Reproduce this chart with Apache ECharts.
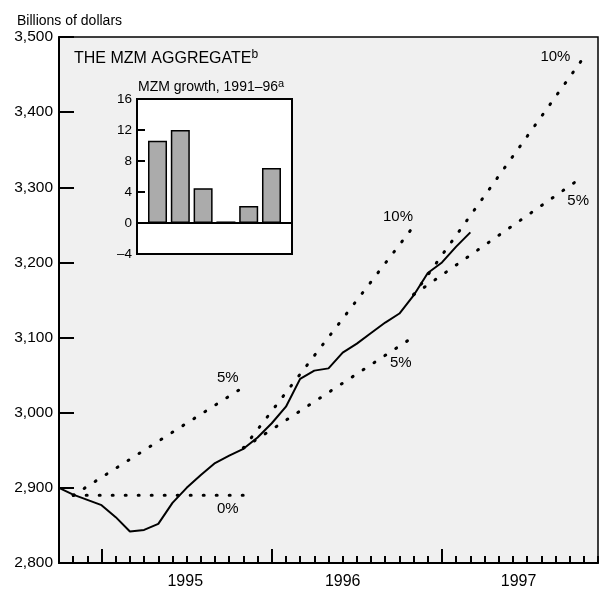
<!DOCTYPE html>
<html>
<head>
<meta charset="utf-8">
<script src="https://cdn.jsdelivr.net/npm/echarts@6/dist/echarts.min.js"></script>
<style>
  html, body { margin: 0; padding: 0; background: #fff; }
  #chart { width: 601px; height: 590px; }
</style>
</head>
<body>
<div id="chart"></div>
<script>
// months counted from Jan 1995 (0 = Jan 1995, -3 = Oct 1994)
const months = [-3, -2, -1, 0, 1, 2, 3, 4, 5, 6, 7, 8, 9, 10, 11, 12, 13, 14, 15, 16, 17, 18, 19, 20, 21, 22, 23, 24, 25, 26];
// MZM level, billions of dollars
const mzm = [2900, 2891, 2884, 2877, 2861, 2842, 2844, 2852, 2880, 2900, 2917, 2933, 2943, 2952, 2967, 2986,
  3008, 3045, 3056, 3059, 3080, 3092, 3106, 3120, 3132, 3156, 3186, 3200, 3221, 3240];

// growth cones [month, level]
const cone95zero = [[-2, 2890], [10, 2890]];
const cone95five = [[-2, 2890], [10, 3034]];
const cone96five = [[10, 2953], [22, 3101]];
const cone96ten = [[10, 2953], [22, 3248]];
const cone97five = [[22, 3157], [34, 3315]];
const cone97ten = [[22, 3157], [34, 3473]];
const coneLabels = [[8.9, 3046, "5%"], [8.9, 2872, "0%"], [20.9, 3260, "10%"],
  [21.1, 3066, "5%"], [32.0, 3474, "10%"], [33.6, 3282, "5%"]];

// x axis: year boundaries and year labels
const yearTicks = [0, 12, 24];
const yearLabelPos = [5.9, 17, 29.4];
const yearLabels = ["1995", "1996", "1997"];

// inset: MZM growth, percent
const growthYears = ["1991", "1992", "1993", "1994", "1995", "1996"];
const growthValues = [10.6, 12.0, 4.5, 0.2, 2.2, 7.1];

const FONT = "'Liberation Sans', Arial, sans-serif";

const chart = echarts.init(document.getElementById("chart"));

function dotted(data) {
  return {
    type: "line",
    xAxisIndex: 0,
    yAxisIndex: 0,
    data: data,
    showSymbol: false,
    silent: true,
    lineStyle: { color: "#000", width: 3, type: [1, 12], cap: "round" },
    z: 2,
  };
}

chart.setOption({
  animation: false,
  textStyle: { fontFamily: FONT, color: "#000" },
  title: [
    {
      text: "Billions of dollars",
      left: 12,
      top: 9,
      textStyle: { fontFamily: FONT, fontSize: 14, fontWeight: "normal", color: "#000" },
    },
    {
      text: "{t|THE MZM AGGREGATE}{s|b}",
      left: 69,
      top: 44,
      textStyle: {
        fontWeight: "normal",
        rich: {
          t: { fontFamily: FONT, fontSize: 16, fontWeight: "normal", color: "#000", lineHeight: 20 },
          s: { fontFamily: FONT, fontSize: 12, fontWeight: "normal", color: "#000", verticalAlign: "top", lineHeight: 20 },
        },
      },
    },
    {
      text: "{t|MZM growth, 1991\u201396}{s|a}",
      left: 133,
      top: 73,
      textStyle: {
        fontWeight: "normal",
        rich: {
          t: { fontFamily: FONT, fontSize: 14, fontWeight: "normal", color: "#000", lineHeight: 18 },
          s: { fontFamily: FONT, fontSize: 11, fontWeight: "normal", color: "#000", verticalAlign: "top", lineHeight: 18 },
        },
      },
    },
  ],
  grid: [
    { left: 59, top: 37, right: 3, bottom: 27, show: true, backgroundColor: "#f0f0f0", borderColor: "#000", borderWidth: 1.5 },
    { left: 137, top: 99, width: 155, height: 155, show: true, backgroundColor: "#fff", borderColor: "#000", borderWidth: 2 },
  ],
  xAxis: [
    {
      gridIndex: 0,
      type: "value",
      min: -3,
      max: 35,
      interval: 1,
      axisLine: { onZero: false, lineStyle: { color: "#000", width: 2 } },
      axisTick: { inside: true, length: 7, lineStyle: { color: "#000", width: 2 } },
      axisLabel: { show: false },
      splitLine: { show: false },
    },
    {
      gridIndex: 0,
      type: "value",
      min: -3,
      max: 35,
      position: "bottom",
      axisLine: { show: false, onZero: false },
      axisTick: { inside: true, length: 14, customValues: yearTicks, lineStyle: { color: "#000", width: 2 } },
      axisLabel: {
        customValues: yearLabelPos,
        margin: 11,
        fontSize: 16,
        fontFamily: FONT,
        color: "#000",
        formatter: function (v) {
          let best = 0;
          for (let i = 0; i < yearLabelPos.length; i++) {
            if (Math.abs(yearLabelPos[i] - v) < Math.abs(yearLabelPos[best] - v)) best = i;
          }
          return yearLabels[best];
        },
      },
      splitLine: { show: false },
    },
    {
      gridIndex: 1,
      type: "value",
      min: -0.9,
      max: 5.9,
      show: false,
      axisLine: { onZero: false },
    },
  ],
  yAxis: [
    {
      gridIndex: 0,
      type: "value",
      min: 2800,
      max: 3500,
      interval: 100,
      axisLine: { show: true, onZero: false, lineStyle: { color: "#000", width: 2 } },
      axisTick: { show: true, inside: true, length: 15, lineStyle: { color: "#000", width: 2 } },
      axisLabel: {
        margin: 6,
        fontSize: 15.5,
        fontFamily: FONT,
        color: "#000",
        formatter: (v) => v.toLocaleString("en-US"),
      },
      splitLine: { show: false },
    },
    {
      gridIndex: 1,
      type: "value",
      min: -4,
      max: 16,
      interval: 4,
      axisLine: { show: true, onZero: false, lineStyle: { color: "#000", width: 2 } },
      axisTick: { show: true, inside: true, length: 8, lineStyle: { color: "#000", width: 2 } },
      axisLabel: {
        margin: 5,
        fontSize: 13.5,
        fontFamily: FONT,
        color: "#000",
        formatter: (v) => (v < 0 ? "\u2013" + -v : String(v)),
      },
      splitLine: { show: false },
    },
  ],
  series: [
    dotted(cone95zero),
    dotted(cone95five),
    dotted(cone96five),
    dotted(cone96ten),
    dotted(cone97five),
    dotted(cone97ten),
    {
      name: "MZM",
      type: "line",
      xAxisIndex: 0,
      yAxisIndex: 0,
      data: months.map((m, i) => [m, mzm[i]]),
      showSymbol: false,
      lineStyle: { color: "#000", width: 2 },
      z: 3,
    },
    {
      type: "scatter",
      xAxisIndex: 0,
      yAxisIndex: 0,
      data: coneLabels,
      symbolSize: 0,
      silent: true,
      label: {
        show: true,
        position: "inside",
        fontSize: 15,
        fontFamily: FONT,
        color: "#000",
        opacity: 1,
        textBorderWidth: 0,
        formatter: (p) => p.data[2],
      },
      z: 4,
    },
    {
      name: "MZM growth",
      type: "bar",
      xAxisIndex: 2,
      yAxisIndex: 1,
      data: growthValues.map((v, i) => [i, v]),
      barWidth: 19,
      itemStyle: { color: "#ababab", borderColor: "#000", borderWidth: 1.5 },
      markLine: {
        silent: true,
        symbol: "none",
        label: { show: false },
        lineStyle: { color: "#000", width: 2, type: "solid" },
        data: [{ yAxis: 0 }],
      },
      z: 5,
    },
  ],
});
</script>
</body>
</html>
